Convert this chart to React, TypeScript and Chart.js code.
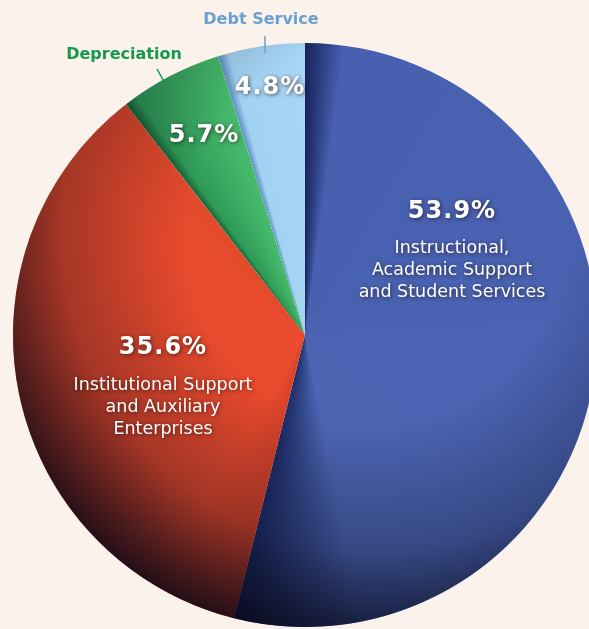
import React, { useEffect, useRef } from 'react';
import { Chart, registerables, ArcElement, Plugin } from 'chart.js';

Chart.register(...registerables);

// ---- data ----
const categories = [
  'Instructional, Academic Support and Student Services',
  'Institutional Support and Auxiliary Enterprises',
  'Depreciation',
  'Debt Service',
];
const shares = [53.9, 35.6, 5.7, 4.8];
const percentLabels = ['53.9%', '35.6%', '5.7%', '4.8%'];
const innerCaptions = [
  ['Instructional,', 'Academic Support', 'and Student Services'],
  ['Institutional Support', 'and Auxiliary', 'Enterprises'],
  [],
  [],
];
const outerCaptions = ['', '', 'Depreciation', 'Debt Service'];

// ---- styles ----
const BG = '#fbf2ec';
const FONT = '"DejaVu Sans", sans-serif';
// [start edge, body, body, end edge] for each slice (clockwise)
const SHADES = [
  ['#17245c', '#4760b0', '#4c66b4', '#1d2c66'],
  ['#d8432a', '#ea4b2e', '#ea4b2e', '#e24a2c'],
  ['#17643a', '#2f9a57', '#44b86a', '#46bb6d'],
  ['#5f8fc2', '#a2d2f2', '#a6d5f4', '#a8d6f4'],
];
const CAPTION_COLORS = ['', '', '#17994c', '#6a9fd2'];

// label layout, pixel offsets from the pie centre for a 290px radius
const PCT_POS = [[147, -123], [-142, 13], [-101, -199], [-35, -247]];
const INNER_FIRST_LINE = [-87, 50];
const LINE_GAP = 22;
const OUTER_POS = [[0, 0], [0, 0], [-181, -280], [-44, -315]];
const LEADERS = [null, null, [[-148, -266], [-139, -250]], [[-40, -299], [-40, -282]]];

const total = shares.reduce((a, b) => a + b, 0);

const sliceAngles = (i: number) => {
  const before = shares.slice(0, i).reduce((a, b) => a + b, 0);
  const start = -Math.PI / 2 + (2 * Math.PI * before) / total;
  const end = start + (2 * Math.PI * shares[i]) / total;
  return { start, end };
};

const shading: Plugin<'pie'> = {
  id: 'shading',
  afterDatasetsDraw(chart) {
    const arc = chart.getDatasetMeta(0).data[0] as ArcElement;
    if (!arc) return;
    const { x, y, outerRadius: r } = arc.getProps(['x', 'y', 'outerRadius'], true);
    const ctx = chart.ctx;
    ctx.save();
    ctx.beginPath();
    ctx.arc(x, y, r, 0, Math.PI * 2);
    ctx.clip();
    const gx = x + 0.25 * r;
    const gy = y - 0.35 * r;
    const g = ctx.createRadialGradient(gx, gy, 0, gx, gy, 1.45 * r);
    g.addColorStop(0, 'rgba(5,5,20,0)');
    g.addColorStop(0.45, 'rgba(5,5,20,0)');
    g.addColorStop(0.75, 'rgba(5,5,20,0.3)');
    g.addColorStop(1, 'rgba(5,5,20,0.9)');
    ctx.fillStyle = g;
    ctx.fillRect(x - r, y - r, 2 * r, 2 * r);
    ctx.restore();
  },
};

const labels: Plugin<'pie'> = {
  id: 'sliceLabels',
  afterDraw(chart) {
    const arc = chart.getDatasetMeta(0).data[0] as ArcElement;
    if (!arc) return;
    const { x, y } = arc.getProps(['x', 'y'], true);
    const ctx = chart.ctx;
    ctx.save();
    ctx.textAlign = 'center';
    ctx.textBaseline = 'middle';

    // captions outside the pie
    outerCaptions.forEach((text, i) => {
      if (!text) return;
      ctx.fillStyle = CAPTION_COLORS[i];
      ctx.strokeStyle = CAPTION_COLORS[i];
      ctx.font = `bold 16px ${FONT}`;
      ctx.fillText(text, x + OUTER_POS[i][0], y + OUTER_POS[i][1]);
      const l = LEADERS[i];
      if (l) {
        ctx.lineWidth = 1.5;
        ctx.beginPath();
        ctx.moveTo(x + l[0][0], y + l[0][1]);
        ctx.lineTo(x + l[1][0], y + l[1][1]);
        ctx.stroke();
      }
    });

    // white labels inside the slices
    ctx.fillStyle = '#ffffff';
    ctx.shadowColor = 'rgba(30,10,10,0.65)';
    ctx.shadowBlur = 4;
    ctx.shadowOffsetX = 1;
    ctx.shadowOffsetY = 1;
    percentLabels.forEach((text, i) => {
      ctx.font = `bold 24px ${FONT}`;
      (ctx as any).letterSpacing = '1px';
      ctx.fillText(text, x + PCT_POS[i][0], y + PCT_POS[i][1]);
      (ctx as any).letterSpacing = '0px';
      ctx.font = `17.5px ${FONT}`;
      innerCaptions[i].forEach((line, j) => {
        ctx.fillText(line, x + PCT_POS[i][0], y + INNER_FIRST_LINE[i] + j * LINE_GAP);
      });
    });
    ctx.restore();
  },
};

const App = () => {
  const canvasRef = useRef<HTMLCanvasElement>(null);
  const chartRef = useRef<Chart<'pie'> | null>(null);

  useEffect(() => {
    if (!canvasRef.current) return;
    const ctx = canvasRef.current.getContext('2d');
    if (!ctx) return;

    if (chartRef.current) {
      chartRef.current.destroy();
    }

    chartRef.current = new Chart(ctx, {
      type: 'pie',
      data: {
        labels: categories,
        datasets: [{
          data: shares,
          borderWidth: 0,
          backgroundColor: (c: any) => {
            const i = c.dataIndex ?? 0;
            const area = c.chart.chartArea;
            if (!area) return SHADES[i][1];
            const cx = (area.left + area.right) / 2;
            const cy = (area.top + area.bottom) / 2;
            const { start, end } = sliceAngles(i);
            const span = (end - start) / (2 * Math.PI);
            const g = c.chart.ctx.createConicGradient(start, cx, cy);
            g.addColorStop(0, SHADES[i][0]);
            g.addColorStop(span * (i === 0 ? 0.04 : 0.12), SHADES[i][1]);
            g.addColorStop(span * 0.87, SHADES[i][2]);
            g.addColorStop(span, SHADES[i][3]);
            return g;
          },
        }],
      },
      options: {
        animation: false,
        responsive: true,
        maintainAspectRatio: false,
        layout: { padding: { left: 13, top: 43, right: 13, bottom: 23 } },
        plugins: {
          legend: { display: false },
          tooltip: { enabled: false },
        },
      },
      plugins: [shading, labels],
    });

    return () => {
      if (chartRef.current) {
        chartRef.current.destroy();
        chartRef.current = null;
      }
    };
  }, []);

  return (
    <div style={{ position: 'fixed', left: 0, top: 0, width: 589, height: 629, overflow: 'hidden', background: BG }}>
      <div style={{ position: 'relative', width: 610, height: 650 }}>
        <canvas ref={canvasRef} />
      </div>
    </div>
  );
};

export default App;
